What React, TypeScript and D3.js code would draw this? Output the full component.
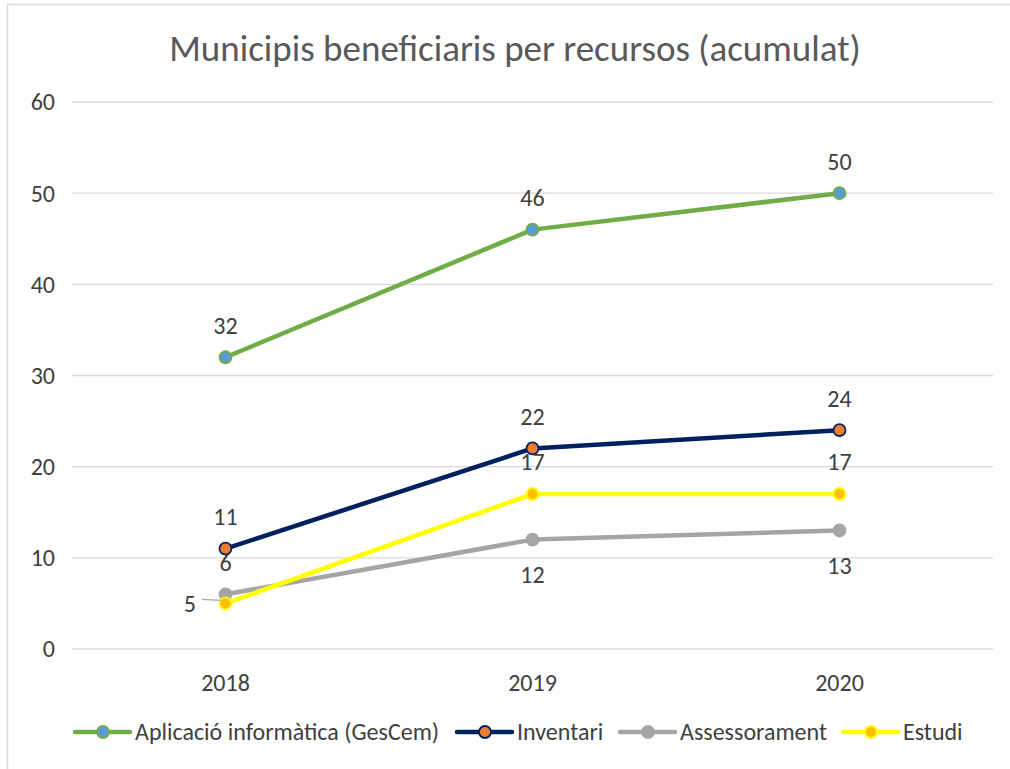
import React from "react";
import * as d3 from "d3";

const title = "Municipis beneficiaris per recursos (acumulat)";
const years = ["2018", "2019", "2020"];
const yTicks = [0, 10, 20, 30, 40, 50, 60];

const seriesNames = ["Aplicació informàtica (GesCem)", "Inventari", "Assessorament", "Estudi"];
const gescem = [32, 46, 50];
const inventari = [11, 22, 24];
const assessorament = [6, 12, 13];
const estudi = [5, 17, 17];

const lineColors = ["#70AD47", "#002060", "#A5A5A5", "#FFFF00"];
const markerFills = ["#5B9BD5", "#ED7D31", "#A5A5A5", "#FFC000"];
// label placement per point: "above", "below", "left"
const labelPos = [
  ["above", "above", "above"],
  ["above", "above", "above"],
  ["above", "below", "below"],
  ["left", "above", "above"],
];

const W = 1010;
const H = 769;
const FONT = "Carlito, Calibri, 'Open Sans', sans-serif";
const TXT = "#404040";

export default function App() {
  const seriesValues = [gescem, inventari, assessorament, estudi];
  const plotLeft = 72;
  const plotRight = 993;
  const plotTop = 102;
  const plotBottom = 649;

  const x = d3.scaleBand<string>().domain(years).range([plotLeft, plotRight]);
  const cx = (i: number) => (x(years[i]) as number) + x.bandwidth() / 2;
  const y = d3.scaleLinear().domain([0, 60]).range([plotBottom, plotTop]);

  const line = d3
    .line<number>()
    .x((_, i) => cx(i))
    .y((d) => y(d));

  const legendX = [75, 457, 620, 843];
  const legendY = 732;

  return (
    <div style={{ position: "absolute", left: 0, top: 0 }}>
      <svg width={W} height={H} style={{ display: "block", background: "#fff" }}>
        <rect x={7.5} y={4.5} width={W + 20} height={H + 20} fill="#fff" stroke="#D9D9D9" strokeWidth={1.5} />
        <text x={515} y={48} dy="0.35em" textAnchor="middle" fontFamily={FONT} fontSize={37} fill="#595959">
          {title}
        </text>
        {yTicks.map((t) => (
          <g key={t}>
            <line x1={plotLeft} x2={plotRight} y1={y(t)} y2={y(t)} stroke="#D9D9D9" strokeWidth={1.3} />
            <text x={55} y={y(t)} dy="0.35em" textAnchor="end" fontFamily={FONT} fontSize={24} fill={TXT}>
              {t}
            </text>
          </g>
        ))}
        {years.map((yr, i) => (
          <text key={yr} x={cx(i)} y={683} dy="0.35em" textAnchor="middle" fontFamily={FONT} fontSize={24} fill={TXT}>
            {yr}
          </text>
        ))}
        {seriesValues.map((vals, s) => (
          <g key={seriesNames[s]}>
            <path d={line(vals) || ""} fill="none" stroke={lineColors[s]} strokeWidth={4.5} strokeLinejoin="round" strokeLinecap="round" />
            {vals.map((v, i) => (
              <circle key={i} cx={cx(i)} cy={y(v)} r={6} fill={markerFills[s]} stroke={lineColors[s]} strokeWidth={1.8} />
            ))}
          </g>
        ))}
        {seriesValues.map((vals, s) =>
          vals.map((v, i) => {
            const pos = labelPos[s][i];
            const px = cx(i);
            const py = y(v);
            if (pos === "left") {
              return (
                <g key={`l${s}-${i}`}>
                  <line x1={202} x2={221} y1={py - 4} y2={py - 3} stroke="#A6A6A6" strokeWidth={1.2} />
                  <text x={196} y={py} dy="0.35em" textAnchor="end" fontFamily={FONT} fontSize={24} fill={TXT}>
                    {v}
                  </text>
                </g>
              );
            }
            const ly = pos === "above" ? py - 32 : py + 35;
            return (
              <text key={`l${s}-${i}`} x={px} y={ly} dy="0.35em" textAnchor="middle" fontFamily={FONT} fontSize={24} fill={TXT}>
                {v}
              </text>
            );
          })
        )}
        {seriesNames.map((name, s) => (
          <g key={name} transform={`translate(${legendX[s]},${legendY})`}>
            <line x1={0} x2={55} y1={0} y2={0} stroke={lineColors[s]} strokeWidth={4.5} strokeLinecap="round" />
            <circle cx={28} cy={0} r={6} fill={markerFills[s]} stroke={lineColors[s]} strokeWidth={1.8} />
            <text x={60} y={0} dy="0.35em" fontFamily={FONT} fontSize={24} fill={TXT}>
              {name}
            </text>
          </g>
        ))}
      </svg>
    </div>
  );
}
